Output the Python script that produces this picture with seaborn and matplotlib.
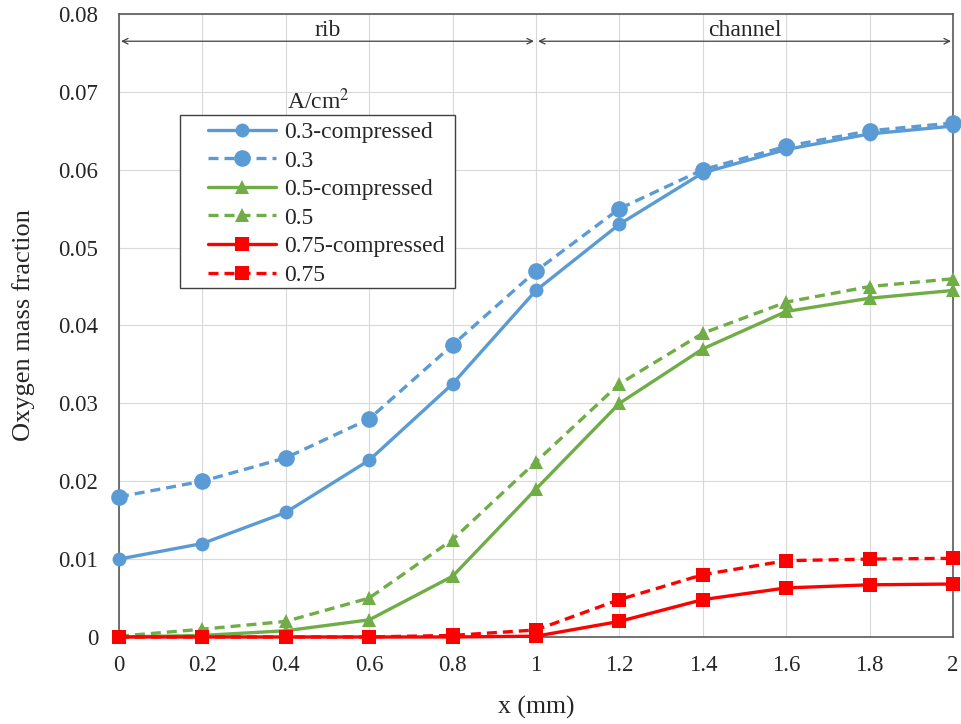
import numpy as np
import pandas as pd
import matplotlib
matplotlib.use("Agg")
import matplotlib.pyplot as plt
import seaborn as sns
from matplotlib.patches import Rectangle

## Dados
x_mm = [0, 0.2, 0.4, 0.6, 0.8, 1.0, 1.2, 1.4, 1.6, 1.8, 2.0]

o2_03_comp = [0.0100, 0.0120, 0.0160, 0.0227, 0.0325, 0.0445, 0.0530, 0.0596, 0.0626, 0.0646, 0.0656]
o2_03 = [0.0180, 0.0200, 0.0230, 0.0280, 0.0375, 0.0470, 0.0550, 0.0600, 0.0630, 0.0650, 0.0660]
o2_05_comp = [0.0000, 0.0002, 0.0008, 0.0022, 0.0078, 0.0190, 0.0300, 0.0370, 0.0418, 0.0435, 0.0445]
o2_05 = [0.0001, 0.0010, 0.0020, 0.0050, 0.0125, 0.0225, 0.0325, 0.0390, 0.0430, 0.0450, 0.0460]
o2_075_comp = [0.0, 0.0, 0.0, 0.0, 0.0, 0.0001, 0.0020, 0.0048, 0.0063, 0.0067, 0.0068]
o2_075 = [0.0, 0.0, 0.0, 0.0, 0.0002, 0.0009, 0.0048, 0.0080, 0.0098, 0.0100, 0.0101]

labels = ["0.3-compressed", "0.3", "0.5-compressed", "0.5", "0.75-compressed", "0.75"]

## Estilo
sns.set_style("whitegrid", {"grid.color": "#d9d9d9", "axes.edgecolor": "#595959"})
plt.rcParams["font.family"] = ["Liberation Serif", "DejaVu Serif"]
plt.rcParams["mathtext.fontset"] = "stix"

fig = plt.figure(figsize=(9.61, 7.24), dpi=100)
ax = fig.add_axes([0.1238, 0.1202, 0.8679, 0.8605])

azul, verde, vermelho = "#5b9bd5", "#70ad47", "#ff0000"
series = [
    (o2_03_comp, azul, "-", "o", 10),
    (o2_03, azul, "--", "o", 12),
    (o2_05_comp, verde, "-", "^", 10),
    (o2_05, verde, "--", "^", 10.5),
    (o2_075_comp, vermelho, "-", "s", 9.5),
    (o2_075, vermelho, "--", "s", 10),
]

for (y, cor, ls, mk, ms), lab in zip(series, labels):
    df = pd.DataFrame({"x": x_mm, "y": y})
    sns.lineplot(data=df, x="x", y="y", ax=ax, color=cor, marker=mk,
                 markersize=ms, markeredgewidth=0, linewidth=2.4, label=lab,
                 clip_on=False, zorder=3)
    if ls == "--":
        ax.lines[-1].set_dashes((3, 1.8))

ax.set_xlim(0, 2)
ax.set_ylim(0, 0.08)
ax.set_xticks(np.arange(0, 2.01, 0.2))
ax.set_xticklabels(["0", "0.2", "0.4", "0.6", "0.8", "1", "1.2", "1.4", "1.6", "1.8", "2"])
ax.set_yticks(np.arange(0, 0.081, 0.01))
ax.set_yticklabels(["0"] + [f"{v:.2f}" for v in np.arange(0.01, 0.081, 0.01)])
ax.tick_params(labelsize=16.5, length=0)
ax.tick_params(axis="y", pad=15)
ax.tick_params(axis="x", pad=13)
ax.set_xlabel("x (mm)", fontsize=18.5, labelpad=14)
ax.set_ylabel("Oxygen mass fraction", fontsize=19, labelpad=17)
for s in ax.spines.values():
    s.set_linewidth(1.2)

## Setas rib / channel
for x0, x1, txt in [(0, 1, "rib"), (1, 2, "channel")]:
    ax.annotate("", xy=(x1 - 0.005, 0.0765), xytext=(x0 + 0.005, 0.0765),
                arrowprops=dict(arrowstyle="<->", color="#404040", lw=0.9, shrinkA=0, shrinkB=0))
    ax.text((x0 + x1) / 2, 0.0772, txt, ha="center", va="baseline", fontsize=17, color="#262626")

## Legenda (moldura desenhada à parte)
ax.add_patch(Rectangle((0.0731, 0.5602), 0.3298, 0.2777, transform=ax.transAxes,
                       facecolor="white", edgecolor="#404040", lw=1.0, zorder=4))
leg = ax.legend(loc="upper left", bbox_to_anchor=(0.1067, 0.8276), fontsize=17, frameon=False,
                handlelength=2.9, handletextpad=0.34, labelspacing=0.3, borderpad=0,
                borderaxespad=0)
leg.set_zorder(5)
ax.text(0.2386, 0.86, "A/cm$^2$", transform=ax.transAxes, ha="center", va="center", fontsize=17)

plt.savefig("out.png", dpi=100)
